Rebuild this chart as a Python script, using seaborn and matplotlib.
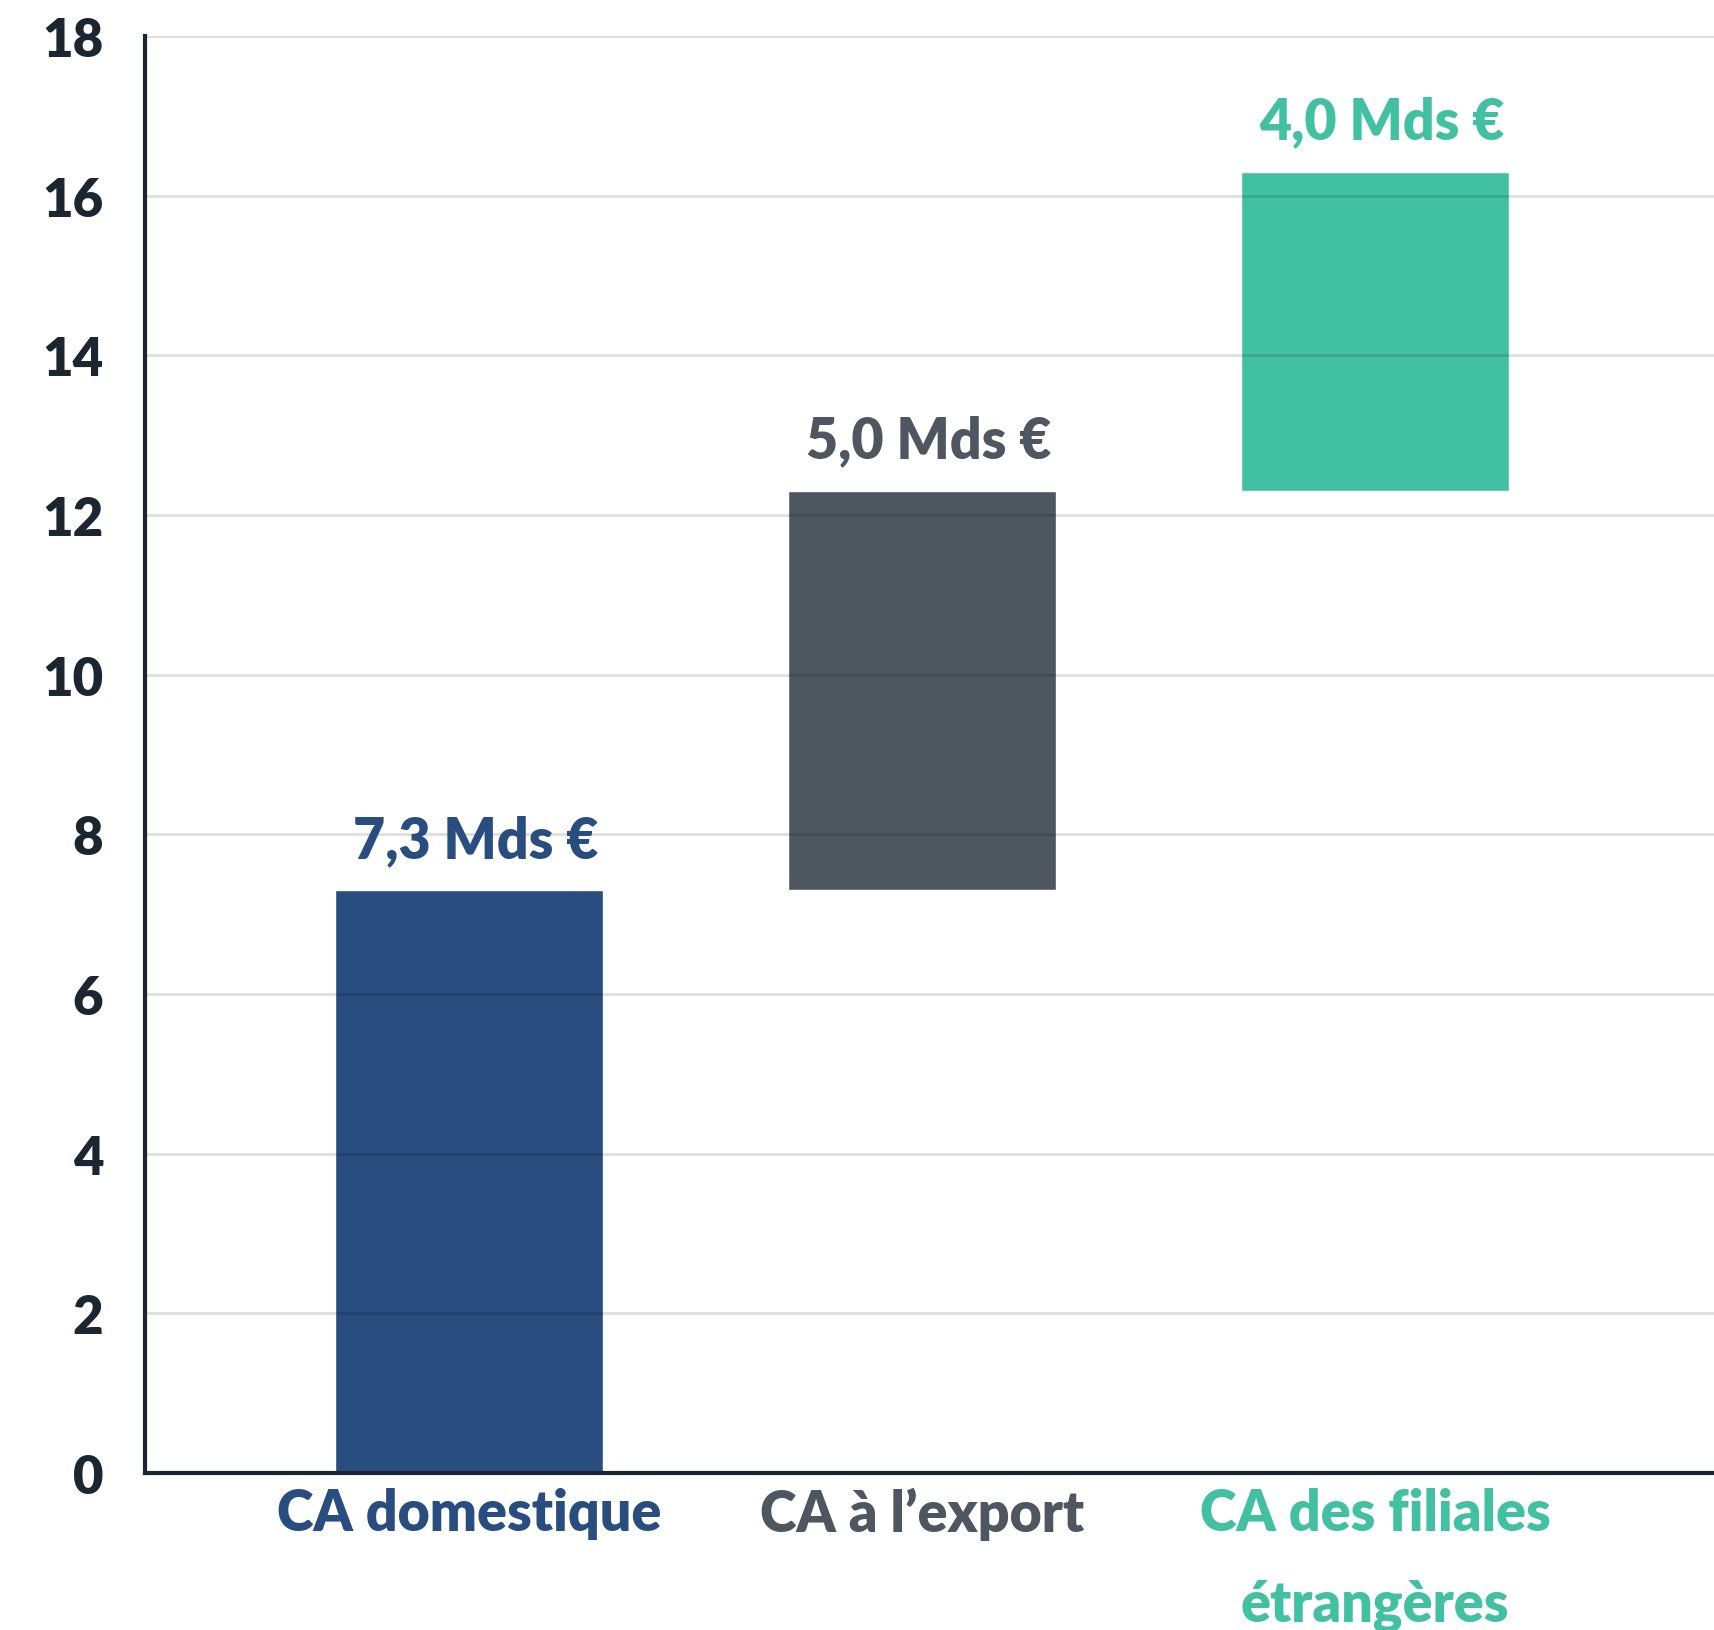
import matplotlib
matplotlib.use('Agg')
import matplotlib.pyplot as plt
import seaborn as sns
import pandas as pd

# Data
categories = ['CA domestique', 'CA à l’export', 'CA des filiales\nétrangères']
values = [7.3, 5.0, 4.0]
starts = [0.0, 7.3, 12.3]
colors = ['#284D7E', '#4E5760', '#42C0A2']
yticks = [0, 2, 4, 6, 8, 10, 12, 14, 16, 18]

sns.set_style('white')
plt.rcParams['font.family'] = ['Lato', 'DejaVu Sans']

df = pd.DataFrame({'cat': categories, 'val': values})

fig = plt.figure(figsize=(17.15, 16.31), dpi=100)
ax = fig.add_axes([0.0845, 0.0963, 0.9155, 0.881])

sns.barplot(data=df, x='cat', y='val', hue='cat', palette=colors,
            width=0.59, legend=False, ax=ax, saturation=1, zorder=2)

# waterfall: move each bar to its start
for patch, start in zip(ax.patches, starts):
    patch.set_y(start)

# value labels
for i, (v, s, c) in enumerate(zip(values, starts, colors)):
    ax.annotate(f"{v:.1f}".replace('.', ',') + ' Mds €', xy=(i, s + v),
                xytext=(5, 24), textcoords='offset points',
                ha='center', va='baseline', fontsize=40, fontweight='heavy', color=c)

ax.set_xlim(-0.715, 2.75)
ax.set_ylim(0, 18)
ax.set_yticks(yticks)
ax.set_yticklabels([str(t) for t in yticks], fontsize=38, fontweight='heavy', color='#1B2631')
ax.set_xlabel('')
ax.set_ylabel('')
ax.set_xticks(range(len(categories)))
ax.set_xticklabels(categories, fontsize=40, fontweight='heavy', linespacing=1.9)
for lbl, c in zip(ax.get_xticklabels(), colors):
    lbl.set_color(c)
    lbl.set_verticalalignment('top')
ax.tick_params(axis='y', length=0, pad=30)
ax.tick_params(axis='x', length=0, pad=10)

# grid drawn over the bars, translucent
ax.grid(axis='y', color='black', alpha=0.13, linewidth=2)
for line in ax.get_ygridlines():
    line.set_zorder(3)
ax.set_axisbelow(False)
for side in ['top', 'right']:
    ax.spines[side].set_visible(False)
for side in ['left', 'bottom']:
    ax.spines[side].set_color('#1B2631')
    ax.spines[side].set_linewidth(3)
    ax.spines[side].set_zorder(5)

fig.savefig('out.png', dpi=100)
